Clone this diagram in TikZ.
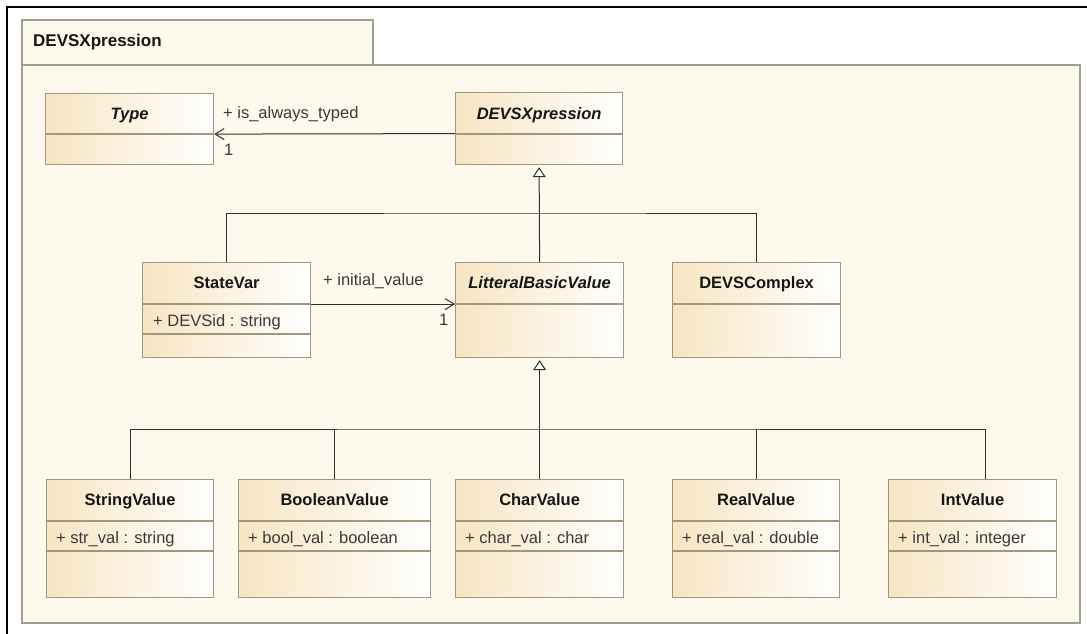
\documentclass[tikz,border=0pt]{standalone}
\usepackage{fontspec}
\setmainfont{Liberation Sans}
\usepackage{tikz}
\usetikzlibrary{arrows.meta, positioning}
\usepackage{xcolor}
\definecolor{pkgFill}{RGB}{253, 249, 236}
\definecolor{pkgLine}{RGB}{160, 160, 146}
\definecolor{boxTan}{RGB}{247, 229, 194}
\definecolor{boxLine}{RGB}{158, 152, 126}
\definecolor{wire}{RGB}{45, 45, 45}
\definecolor{ink}{RGB}{22, 22, 22}

\begin{document}
\begin{tikzpicture}[
  x=1pt, y=-1pt,
  every node/.style={inner sep=0pt, text=ink},
  classbox/.style={draw=boxLine, line width=1.2pt, left color=boxTan, right color=white,
    anchor=north west, minimum width=168pt},
  divider/.style={draw=boxLine, line width=1.1pt},
  cname/.style={anchor=base, font=\fontsize{16.5}{20}\selectfont\bfseries},
  iname/.style={cname, font=\fontsize{16.5}{20}\selectfont\bfseries\itshape},
  attr/.style={anchor=base west, font=\fontsize{16.5}{20}\selectfont, text=ink!85},
  role/.style={anchor=base west, font=\fontsize{16.5}{20}\selectfont, text=ink!85},
  assoc/.style={draw=wire, line width=1pt, -{Straight Barb[length=9pt, width=11pt, line width=1pt]}},
  gen/.style={draw=wire, line width=1pt, shorten >=2pt, -{Triangle[length=10pt, width=13pt, fill=white, line width=1pt]}},
  tree/.style={draw=wire, line width=1pt}
]
  \useasboundingbox (0,0) rectangle (1087,634);
  % Frame and package
  \draw[line width=2pt, black] (7,634) -- (7,7) -- (1087,7);
  \draw[pkgLine, fill=pkgFill, line width=1.2pt] (22,65) rectangle (1080,623);
  \draw[pkgLine, fill=pkgFill, line width=1.2pt] (22,20) rectangle (373,65);
  \node[anchor=base west, font=\fontsize{17}{20}\selectfont\bfseries] (pkgname) at (33,47) {DEVSXpression};

  % Top row
  \node[classbox, minimum height=71pt] (type) at (45,93) {};
  \node[iname] (type-name) at (type.north |- 0,119) {Type};
  \draw[divider] (type.west |- 0,134) -- (type.east |- 0,134);

  \node[classbox, minimum width=167pt, minimum height=72pt] (devsx) at (455,92) {};
  \node[iname] (devsx-name) at (devsx.north |- 0,119) {DEVSXpression};
  \draw[divider] (devsx.west |- 0,134) -- (devsx.east |- 0,134);

  % Middle row
  \node[classbox, minimum height=95pt] (statevar) at (142,262) {};
  \node[cname] (statevar-name) at (statevar.north |- 0,288) {StateVar};
  \draw[divider] (statevar.west |- 0,304) -- (statevar.east |- 0,304);
  \node[attr] (statevar-attr) at (153,326) {+ DEVSid : string};
  \draw[divider] (statevar.west |- 0,334) -- (statevar.east |- 0,334);

  \node[classbox, minimum height=95pt] (lbv) at (455,262) {};
  \node[iname] (lbv-name) at (lbv.north |- 0,288) {LitteralBasicValue};
  \draw[divider] (lbv.west |- 0,304) -- (lbv.east |- 0,304);

  \node[classbox, minimum height=95pt] (complex) at (672,262) {};
  \node[cname] (complex-name) at (complex.north |- 0,288) {DEVSComplex};
  \draw[divider] (complex.west |- 0,304) -- (complex.east |- 0,304);

  % Bottom row
  \foreach \id/\xl/\w/\nm/\at in {
    strval/46/167/StringValue/{+ str\_val : string},
    boolval/238/192/BooleanValue/{+ bool\_val : boolean},
    charval/455/168/CharValue/{+ char\_val : char},
    realval/672/167/RealValue/{+ real\_val : double},
    intval/888/168/IntValue/{+ int\_val : integer}%
  } {
    \node[classbox, minimum width=\w pt, minimum height=118pt] (\id) at (\xl,479) {};
    \node[cname] (\id-name) at (\id.north |- 0,505) {\nm};
    \draw[divider] (\id.west |- 0,521) -- (\id.east |- 0,521);
    \node[attr] (\id-attr) at (\xl+10,543) {\at};
    \draw[divider] (\id.west |- 0,551) -- (\id.east |- 0,551);
  }

  % Associations
  \draw[assoc] ([yshift=-5pt]devsx.west) -- ([yshift=-5pt]type.east);
  \node[role] (typed-role) at (223,118) {+ is\_always\_typed};
  \node[role] (typed-mult) at (224,155) {1};
  \draw[assoc] ([yshift=6pt]statevar.east) -- ([yshift=6pt]lbv.west);
  \node[role] (init-role) at (323,285) {+ initial\_value};
  \node[role] (init-mult) at (439,325) {1};

  % Generalizations
  \coordinate (upper-bus) at (539,213);
  \coordinate (lower-bus) at (539,429);
  \draw[gen] (lbv.north) -- (devsx.south);
  \draw[tree] (statevar.north) |- (upper-bus) -| (complex.north);
  \draw[gen] (charval.north) -- (lbv.south);
  \draw[tree] (strval.north) |- (lower-bus) -| ([xshift=13pt]intval.north);
  \draw[tree] (boolval.north) -- (boolval.north |- lower-bus);
  \draw[tree] (realval.north) -- (realval.north |- lower-bus);
\end{tikzpicture}
\end{document}
